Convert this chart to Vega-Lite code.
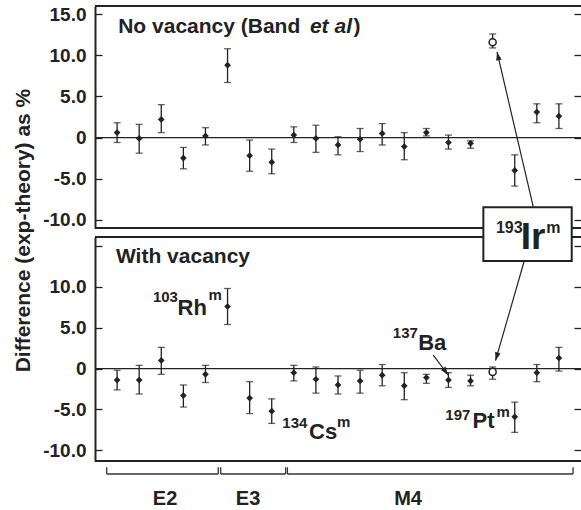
{
  "$schema": "https://vega.github.io/schema/vega-lite/v6.json",
  "padding": {"left": 12, "top": 5, "right": 0, "bottom": 0},
  "bounds": "flush",
  "spacing": 9,
  "config": {
    "font": "Liberation Sans",
    "view": {"stroke": null},
    "axis": {"grid": false, "labelFont": "Liberation Sans", "labelFontWeight": "bold", "labelFontSize": 19, "labelColor": "#222", "tickColor": "#222", "tickSize": -7, "tickWidth": 1.3, "labelPadding": 16, "domainColor": "#222", "domainWidth": 2, "titleFont": "Liberation Sans", "titleFontWeight": "bold", "titleColor": "#222", "labelOverlap": false, "labelFlush": false, "labelBound": false}
  },
  "datasets": {
    "top": [
      {"i":1,"v":0.6,"lo":-0.6,"hi":1.8,"o":0},
      {"i":2,"v":-0.1,"lo":-1.9,"hi":1.6,"o":0},
      {"i":3,"v":2.2,"lo":0.6,"hi":4.0,"o":0},
      {"i":4,"v":-2.5,"lo":-3.8,"hi":-1.2,"o":0},
      {"i":5,"v":0.2,"lo":-0.9,"hi":1.2,"o":0},
      {"i":6,"v":8.8,"lo":6.7,"hi":10.8,"o":0},
      {"i":7,"v":-2.2,"lo":-4.1,"hi":-0.3,"o":0},
      {"i":8,"v":-3.0,"lo":-4.4,"hi":-1.4,"o":0},
      {"i":9,"v":0.3,"lo":-0.6,"hi":1.3,"o":0},
      {"i":10,"v":-0.1,"lo":-1.8,"hi":1.5,"o":0},
      {"i":11,"v":-0.9,"lo":-2.1,"hi":0.1,"o":0},
      {"i":12,"v":-0.2,"lo":-1.7,"hi":1.1,"o":0},
      {"i":13,"v":0.5,"lo":-0.9,"hi":1.7,"o":0},
      {"i":14,"v":-1.1,"lo":-2.7,"hi":0.6,"o":0},
      {"i":15,"v":0.6,"lo":0.2,"hi":1.1,"o":0},
      {"i":16,"v":-0.6,"lo":-1.4,"hi":0.3,"o":0},
      {"i":17,"v":-0.7,"lo":-1.3,"hi":-0.4,"o":0},
      {"i":18,"v":11.6,"lo":10.9,"hi":12.6,"o":1},
      {"i":19,"v":-4.0,"lo":-5.9,"hi":-2.1,"o":0},
      {"i":20,"v":3.1,"lo":1.8,"hi":4.1,"o":0},
      {"i":21,"v":2.6,"lo":1.1,"hi":4.1,"o":0}
    ],
    "bot": [
      {"i":1,"v":-1.4,"lo":-2.6,"hi":-0.2,"o":0},
      {"i":2,"v":-1.4,"lo":-3.1,"hi":0.4,"o":0},
      {"i":3,"v":1.0,"lo":-0.7,"hi":2.6,"o":0},
      {"i":4,"v":-3.3,"lo":-4.7,"hi":-2.0,"o":0},
      {"i":5,"v":-0.7,"lo":-1.7,"hi":0.4,"o":0},
      {"i":6,"v":7.6,"lo":5.4,"hi":9.8,"o":0},
      {"i":7,"v":-3.6,"lo":-5.5,"hi":-1.6,"o":0},
      {"i":8,"v":-5.2,"lo":-6.7,"hi":-3.7,"o":0},
      {"i":9,"v":-0.5,"lo":-1.5,"hi":0.4,"o":0},
      {"i":10,"v":-1.3,"lo":-3.0,"hi":0.2,"o":0},
      {"i":11,"v":-2.0,"lo":-3.1,"hi":-0.9,"o":0},
      {"i":12,"v":-1.5,"lo":-3.0,"hi":-0.2,"o":0},
      {"i":13,"v":-0.8,"lo":-2.1,"hi":0.5,"o":0},
      {"i":14,"v":-2.1,"lo":-3.8,"hi":-0.5,"o":0},
      {"i":15,"v":-1.1,"lo":-1.8,"hi":-0.7,"o":0},
      {"i":16,"v":-1.4,"lo":-2.3,"hi":-0.5,"o":0},
      {"i":17,"v":-1.5,"lo":-2.1,"hi":-0.8,"o":0},
      {"i":18,"v":-0.4,"lo":-1.3,"hi":0.2,"o":1},
      {"i":19,"v":-5.9,"lo":-7.8,"hi":-4.1,"o":0},
      {"i":20,"v":-0.5,"lo":-1.6,"hi":0.5,"o":0},
      {"i":21,"v":1.3,"lo":-0.3,"hi":2.6,"o":0}
    ],
    "ann": [
      {"p":"top","k":"title","t":"No vacancy (Band","x":1.05,"y":12.69},
      {"p":"top","k":"italic","t":"et al","x":9.73,"y":12.69},
      {"p":"top","k":"title","t":")","x":11.7,"y":12.69},
      {"p":"bot","k":"title","t":"With vacancy","x":0.95,"y":12.92},
      {"p":"bot","k":"sup","t":"103","x":2.62,"y":8.2},
      {"p":"bot","k":"main","t":"Rh","x":3.74,"y":6.56},
      {"p":"bot","k":"sup","t":"m","x":5.14,"y":8.4},
      {"p":"bot","k":"sup","t":"134","x":8.48,"y":-7.3},
      {"p":"bot","k":"main","t":"Cs","x":9.69,"y":-8.65},
      {"p":"bot","k":"sup","t":"m","x":10.95,"y":-7.2},
      {"p":"bot","k":"sup","t":"137","x":13.48,"y":3.71},
      {"p":"bot","k":"main","t":"Ba","x":14.63,"y":2.28},
      {"p":"bot","k":"sup","t":"197","x":15.86,"y":-6.29},
      {"p":"bot","k":"main","t":"Pt","x":17.09,"y":-7.3},
      {"p":"bot","k":"sup","t":"m","x":18.17,"y":-5.92},
      {"p":"bot","k":"boxsup","t":"193","x":18.15,"y":16.55},
      {"p":"bot","k":"boxmain","t":"Ir","x":19.27,"y":14.63},
      {"p":"bot","k":"boxsup","t":"m","x":20.43,"y":16.59}
    ],
    "arrows": [
      {"id":"irTop","x":19.84,"y":-8.44,"x2":18.2,"y2":10.41},
      {"id":"irBot","x":19.43,"y":13.16,"x2":18.13,"y2":0.97},
      {"id":"ba","x":15.31,"y":1.66,"x2":15.99,"y2":-0.78}
    ],
    "box": [{"x":17.58,"x2":21.58,"y":19.73,"y2":13.16}],
    "groups": [
      {"g":"E2","a":0.53,"b":5.58,"mid":3.17},
      {"g":"E3","a":5.69,"b":8.63,"mid":6.93},
      {"g":"M4","a":8.71,"b":21.64,"mid":14.17}
    ]
  },
  "vconcat": [
    {
      "width": 486, "height": 222,
      "resolve": {"axis": {"y": "independent"}},
      "layer": [
        {"data": {"values": [{}]}, "mark": {"type": "rule", "color": "#222", "strokeWidth": 2},
         "encoding": {"y": {"datum": 16, "type": "quantitative", "scale": {"domain": [-11, 16], "nice": false, "zero": false}, "axis": null}}},
        {"data": {"values": [{}]}, "mark": {"type": "rule", "color": "#222", "strokeWidth": 2},
         "encoding": {"y": {"datum": -11, "type": "quantitative", "scale": {"domain": [-11, 16], "nice": false, "zero": false}, "axis": null}}},
        {"data": {"values": [{}]}, "mark": {"type": "rule", "color": "#222", "strokeWidth": 1.3},
         "encoding": {"y": {"datum": 0, "type": "quantitative", "scale": {"domain": [-11, 16], "nice": false, "zero": false}, "axis": null}}},
        {"data": {"name": "top"}, "mark": {"type": "errorbar", "ticks": true, "size": 7, "thickness": 1.3, "color": "#222"},
         "encoding": {
           "x": {"field": "i", "type": "quantitative", "scale": {"domain": [0, 22], "nice": false, "zero": false}, "axis": null},
           "y": {"field": "lo", "type": "quantitative", "scale": {"domain": [-11, 16], "nice": false, "zero": false},
                 "axis": {"orient": "left", "values": [-10, -5, 0, 5, 10, 15], "domain": true, "ticks": true,
                          "labelExpr": "datum.value == 0 ? '0' : (datum.value < 0 ? '-' : '') + format(abs(datum.value), '.1f')",
                          "title": "Difference (exp-theory) as %", "titleX": -66, "titleY": 224, "titleAngle": 270, "titleAlign": "center", "titleBaseline": "alphabetic", "titleFontSize": 21}},
           "y2": {"field": "hi"}
         }},
        {"data": {"name": "top"}, "transform": [{"filter": "datum.o == 0"}], "mark": {"type": "point", "shape": "diamond", "filled": true, "size": 45, "color": "#222", "opacity": 1},
         "encoding": {
           "x": {"field": "i", "type": "quantitative", "scale": {"domain": [0, 22], "nice": false, "zero": false}, "axis": null},
           "y": {"field": "v", "type": "quantitative", "scale": {"domain": [-11, 16], "nice": false, "zero": false},
                 "axis": {"orient": "right", "values": [-10, -5, 0, 5, 10, 15], "labels": false, "domain": false, "title": null}}
         }},
        {"data": {"name": "top"}, "transform": [{"filter": "datum.o == 1"}], "mark": {"type": "point", "shape": "circle", "filled": true, "fill": "white", "stroke": "#222", "strokeWidth": 1.5, "size": 50, "opacity": 1},
         "encoding": {
           "x": {"field": "i", "type": "quantitative", "scale": {"domain": [0, 22], "nice": false, "zero": false}, "axis": null},
           "y": {"field": "v", "type": "quantitative", "scale": {"domain": [-11, 16], "nice": false, "zero": false}, "axis": null}
         }},
        {"data": {"name": "ann"}, "transform": [{"filter": "datum.p == 'top' && datum.k == 'title'"}], "mark": {"type": "text", "align": "left", "baseline": "alphabetic", "fontSize": 21, "fontWeight": "bold", "color": "#222"},
         "encoding": {
           "x": {"field": "x", "type": "quantitative", "scale": {"domain": [0, 22], "nice": false, "zero": false}, "axis": null},
           "y": {"field": "y", "type": "quantitative", "scale": {"domain": [-11, 16], "nice": false, "zero": false}, "axis": null},
           "text": {"field": "t"}
         }},
        {"data": {"name": "ann"}, "transform": [{"filter": "datum.p == 'top' && datum.k == 'italic'"}], "mark": {"type": "text", "align": "left", "baseline": "alphabetic", "fontSize": 21, "fontWeight": "bold", "fontStyle": "italic", "color": "#222"},
         "encoding": {
           "x": {"field": "x", "type": "quantitative", "scale": {"domain": [0, 22], "nice": false, "zero": false}, "axis": null},
           "y": {"field": "y", "type": "quantitative", "scale": {"domain": [-11, 16], "nice": false, "zero": false}, "axis": null},
           "text": {"field": "t"}
         }},
        {"data": {"name": "arrows"}, "transform": [{"filter": "datum.id == 'irTop'"}], "mark": {"type": "rule", "color": "#222", "strokeWidth": 1.2},
         "encoding": {
           "x": {"field": "x", "type": "quantitative", "scale": {"domain": [0, 22], "nice": false, "zero": false}, "axis": null},
           "y": {"field": "y", "type": "quantitative", "scale": {"domain": [-11, 16], "nice": false, "zero": false}, "axis": null},
           "x2": {"field": "x2"}, "y2": {"field": "y2"}
         }},
        {"data": {"name": "arrows"}, "transform": [{"filter": "datum.id == 'irTop'"}], "mark": {"type": "point", "shape": "M0,0L-0.8,2.4L0.8,2.4Z", "filled": true, "size": 49, "angle": -13, "color": "#222", "opacity": 1},
         "encoding": {
           "x": {"field": "x2", "type": "quantitative", "scale": {"domain": [0, 22], "nice": false, "zero": false}, "axis": null},
           "y": {"field": "y2", "type": "quantitative", "scale": {"domain": [-11, 16], "nice": false, "zero": false}, "axis": null}
         }}
      ]
    },
    {
      "width": 486, "height": 224,
      "resolve": {"axis": {"y": "independent"}},
      "layer": [
        {"data": {"values": [{}]}, "mark": {"type": "rule", "color": "#222", "strokeWidth": 2},
         "encoding": {"y": {"datum": 16.1, "type": "quantitative", "scale": {"domain": [-11.3, 16.1], "nice": false, "zero": false}, "axis": null}}},
        {"data": {"values": [{}]}, "mark": {"type": "rule", "color": "#222", "strokeWidth": 2},
         "encoding": {"y": {"datum": -11.3, "type": "quantitative", "scale": {"domain": [-11.3, 16.1], "nice": false, "zero": false}, "axis": null}}},
        {"data": {"values": [{}]}, "mark": {"type": "rule", "color": "#222", "strokeWidth": 1.3},
         "encoding": {"y": {"datum": 0, "type": "quantitative", "scale": {"domain": [-11.3, 16.1], "nice": false, "zero": false}, "axis": null}}},
        {"data": {"name": "bot"}, "mark": {"type": "errorbar", "ticks": true, "size": 7, "thickness": 1.3, "color": "#222"},
         "encoding": {
           "x": {"field": "i", "type": "quantitative", "scale": {"domain": [0, 22], "nice": false, "zero": false}, "axis": null},
           "y": {"field": "lo", "type": "quantitative", "scale": {"domain": [-11.3, 16.1], "nice": false, "zero": false},
                 "axis": {"orient": "left", "values": [-10, -5, 0, 5, 10, 15], "domain": true, "ticks": true, "title": null,
                          "labelExpr": "datum.value == 15 ? '' : datum.value == 0 ? '0' : (datum.value < 0 ? '-' : '') + format(abs(datum.value), '.1f')"}},
           "y2": {"field": "hi"}
         }},
        {"data": {"name": "bot"}, "transform": [{"filter": "datum.o == 0"}], "mark": {"type": "point", "shape": "diamond", "filled": true, "size": 45, "color": "#222", "opacity": 1},
         "encoding": {
           "x": {"field": "i", "type": "quantitative", "scale": {"domain": [0, 22], "nice": false, "zero": false}, "axis": null},
           "y": {"field": "v", "type": "quantitative", "scale": {"domain": [-11.3, 16.1], "nice": false, "zero": false},
                 "axis": {"orient": "right", "values": [-10, -5, 0, 5, 10, 15], "labels": false, "domain": false, "title": null}}
         }},
        {"data": {"name": "bot"}, "transform": [{"filter": "datum.o == 1"}], "mark": {"type": "point", "shape": "circle", "filled": true, "fill": "white", "stroke": "#222", "strokeWidth": 1.5, "size": 50, "opacity": 1},
         "encoding": {
           "x": {"field": "i", "type": "quantitative", "scale": {"domain": [0, 22], "nice": false, "zero": false}, "axis": null},
           "y": {"field": "v", "type": "quantitative", "scale": {"domain": [-11.3, 16.1], "nice": false, "zero": false}, "axis": null}
         }},
        {"data": {"name": "ann"}, "transform": [{"filter": "datum.p == 'bot' && datum.k == 'title'"}], "mark": {"type": "text", "align": "left", "baseline": "alphabetic", "fontSize": 21, "fontWeight": "bold", "color": "#222"},
         "encoding": {
           "x": {"field": "x", "type": "quantitative", "scale": {"domain": [0, 22], "nice": false, "zero": false}, "axis": null},
           "y": {"field": "y", "type": "quantitative", "scale": {"domain": [-11.3, 16.1], "nice": false, "zero": false}, "axis": null},
           "text": {"field": "t"}
         }},
        {"data": {"name": "ann"}, "transform": [{"filter": "datum.p == 'bot' && datum.k == 'sup'"}], "mark": {"type": "text", "align": "left", "baseline": "alphabetic", "fontSize": 15, "fontWeight": "bold", "color": "#222"},
         "encoding": {
           "x": {"field": "x", "type": "quantitative", "scale": {"domain": [0, 22], "nice": false, "zero": false}, "axis": null},
           "y": {"field": "y", "type": "quantitative", "scale": {"domain": [-11.3, 16.1], "nice": false, "zero": false}, "axis": null},
           "text": {"field": "t"}
         }},
        {"data": {"name": "ann"}, "transform": [{"filter": "datum.p == 'bot' && datum.k == 'main'"}], "mark": {"type": "text", "align": "left", "baseline": "alphabetic", "fontSize": 22, "fontWeight": "bold", "color": "#222"},
         "encoding": {
           "x": {"field": "x", "type": "quantitative", "scale": {"domain": [0, 22], "nice": false, "zero": false}, "axis": null},
           "y": {"field": "y", "type": "quantitative", "scale": {"domain": [-11.3, 16.1], "nice": false, "zero": false}, "axis": null},
           "text": {"field": "t"}
         }},
        {"data": {"name": "arrows"}, "transform": [{"filter": "datum.id != 'irTop'"}], "mark": {"type": "rule", "color": "#222", "strokeWidth": 1.2},
         "encoding": {
           "x": {"field": "x", "type": "quantitative", "scale": {"domain": [0, 22], "nice": false, "zero": false}, "axis": null},
           "y": {"field": "y", "type": "quantitative", "scale": {"domain": [-11.3, 16.1], "nice": false, "zero": false}, "axis": null},
           "x2": {"field": "x2"}, "y2": {"field": "y2"}
         }},
        {"data": {"name": "arrows"}, "transform": [{"filter": "datum.id == 'irBot'"}], "mark": {"type": "point", "shape": "M0,0L-0.8,2.4L0.8,2.4Z", "filled": true, "size": 49, "angle": 196, "color": "#222", "opacity": 1},
         "encoding": {
           "x": {"field": "x2", "type": "quantitative", "scale": {"domain": [0, 22], "nice": false, "zero": false}, "axis": null},
           "y": {"field": "y2", "type": "quantitative", "scale": {"domain": [-11.3, 16.1], "nice": false, "zero": false}, "axis": null}
         }},
        {"data": {"name": "arrows"}, "transform": [{"filter": "datum.id == 'ba'"}], "mark": {"type": "point", "shape": "M0,0L-0.8,2.4L0.8,2.4Z", "filled": true, "size": 49, "angle": 143, "color": "#222", "opacity": 1},
         "encoding": {
           "x": {"field": "x2", "type": "quantitative", "scale": {"domain": [0, 22], "nice": false, "zero": false}, "axis": null},
           "y": {"field": "y2", "type": "quantitative", "scale": {"domain": [-11.3, 16.1], "nice": false, "zero": false}, "axis": null}
         }},
        {"data": {"name": "box"}, "mark": {"type": "rect", "fill": "white", "stroke": "#222", "strokeWidth": 2},
         "encoding": {
           "x": {"field": "x", "type": "quantitative", "scale": {"domain": [0, 22], "nice": false, "zero": false}, "axis": null},
           "y": {"field": "y", "type": "quantitative", "scale": {"domain": [-11.3, 16.1], "nice": false, "zero": false}, "axis": null},
           "x2": {"field": "x2"}, "y2": {"field": "y2"}
         }},
        {"data": {"name": "ann"}, "transform": [{"filter": "datum.p == 'bot' && datum.k == 'boxsup'"}], "mark": {"type": "text", "align": "left", "baseline": "alphabetic", "fontSize": 16, "fontWeight": "bold", "color": "#222"},
         "encoding": {
           "x": {"field": "x", "type": "quantitative", "scale": {"domain": [0, 22], "nice": false, "zero": false}, "axis": null},
           "y": {"field": "y", "type": "quantitative", "scale": {"domain": [-11.3, 16.1], "nice": false, "zero": false}, "axis": null},
           "text": {"field": "t"}
         }},
        {"data": {"name": "ann"}, "transform": [{"filter": "datum.p == 'bot' && datum.k == 'boxmain'"}], "mark": {"type": "text", "align": "left", "baseline": "alphabetic", "fontSize": 37, "fontWeight": "bold", "color": "#222"},
         "encoding": {
           "x": {"field": "x", "type": "quantitative", "scale": {"domain": [0, 22], "nice": false, "zero": false}, "axis": null},
           "y": {"field": "y", "type": "quantitative", "scale": {"domain": [-11.3, 16.1], "nice": false, "zero": false}, "axis": null},
           "text": {"field": "t"}
         }}
      ]
    },
    {
      "width": 486, "height": 38,
      "data": {"name": "groups"},
      "layer": [
        {"mark": {"type": "rule", "color": "#333", "strokeWidth": 1.3},
         "encoding": {
           "x": {"field": "a", "type": "quantitative", "scale": {"domain": [0, 22], "nice": false, "zero": false}, "axis": null},
           "x2": {"field": "b"},
           "y": {"datum": 34, "type": "quantitative", "scale": {"domain": [0, 38], "nice": false, "zero": false}, "axis": null}
         }},
        {"mark": {"type": "rule", "color": "#333", "strokeWidth": 1.3},
         "encoding": {
           "x": {"field": "a", "type": "quantitative", "scale": {"domain": [0, 22], "nice": false, "zero": false}, "axis": null},
           "y": {"datum": 34, "type": "quantitative", "scale": {"domain": [0, 38], "nice": false, "zero": false}, "axis": null},
           "y2": {"datum": 40.7}
         }},
        {"mark": {"type": "rule", "color": "#333", "strokeWidth": 1.3},
         "encoding": {
           "x": {"field": "b", "type": "quantitative", "scale": {"domain": [0, 22], "nice": false, "zero": false}, "axis": null},
           "y": {"datum": 34, "type": "quantitative", "scale": {"domain": [0, 38], "nice": false, "zero": false}, "axis": null},
           "y2": {"datum": 40.7}
         }},
        {"mark": {"type": "text", "align": "center", "baseline": "alphabetic", "fontSize": 20, "fontWeight": "bold", "color": "#222"},
         "encoding": {
           "x": {"field": "mid", "type": "quantitative", "scale": {"domain": [0, 22], "nice": false, "zero": false}, "axis": null},
           "y": {"datum": 3, "type": "quantitative", "scale": {"domain": [0, 38], "nice": false, "zero": false}, "axis": null},
           "text": {"field": "g"}
         }}
      ]
    }
  ]
}
